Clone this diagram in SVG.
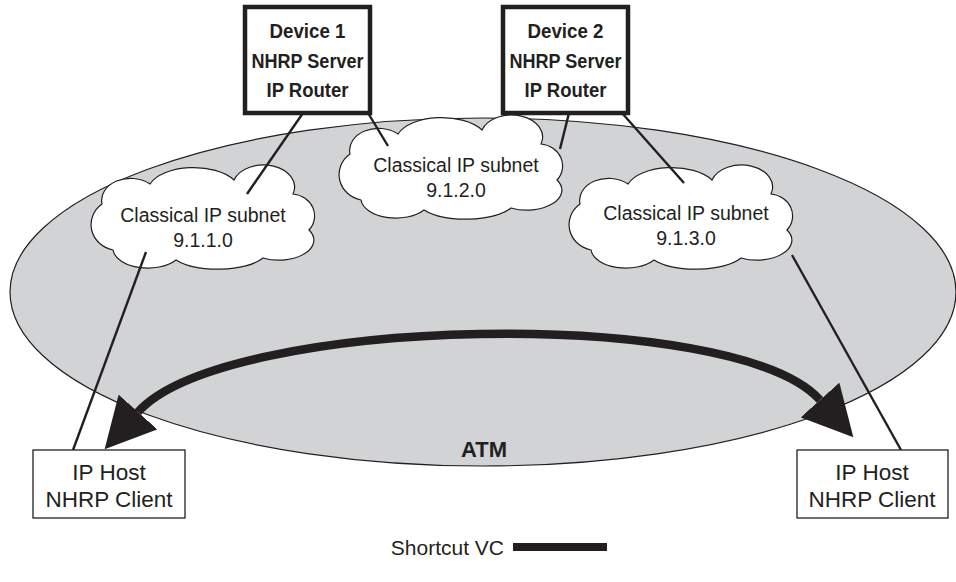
<svg xmlns="http://www.w3.org/2000/svg" xmlns:xlink="http://www.w3.org/1999/xlink" width="956" height="582" viewBox="0 0 956 582">
  <style>
    .txt { font-family: "Liberation Sans", Arial, sans-serif; fill: #231f20; text-anchor: middle; }
    .bold { font-weight: bold; font-size: 20.5px; }
    .atm { font-weight: bold; font-size: 22px; }
    .cloudtxt { font-size: 19.5px; }
    .hosttxt { font-size: 22.5px; }
    .dev { fill: #ffffff; stroke: #231f20; stroke-width: 4.5; }
    .host { fill: #ffffff; stroke: #231f20; stroke-width: 1.3; }
    .cloud { fill: #ffffff; stroke: #231f20; stroke-width: 1.2; }
    .conn { stroke: #231f20; stroke-width: 2.4; fill: none; }
    .vc { stroke: #231f20; stroke-width: 8.5; fill: none; }
  </style>
  <defs>
    <path id="cloudShape" d="M -101,-14 A 29,22 0 0 1 -53,-34 A 46,24 0 0 1 31,-38 A 31,22 0 0 1 90,-24 A 24,22 0 0 1 106,12 A 35,20 0 0 1 60,40 A 50,20 0 0 1 -27,42 A 35,20 0 0 1 -90,32 A 28,26 0 0 1 -101,-14 Z"/>
    <marker id="head" viewBox="0 0 50 52" refX="0" refY="26" markerWidth="50" markerHeight="52" markerUnits="userSpaceOnUse" orient="auto-start-reverse">
      <path d="M 0,0 L 50,26 L 0,52 Z" fill="#231f20"/>
    </marker>
  </defs>

  <g id="atm">
    <ellipse cx="483" cy="292" rx="473" ry="174" fill="#d1d3d4" stroke="#231f20" stroke-width="1.2"/>
    <text class="txt atm" x="484" y="457">ATM</text>
  </g>

  <g id="cloud1">
    <use xlink:href="#cloudShape" href="#cloudShape" class="cloud" transform="translate(203,218)"/>
    <text class="txt cloudtxt" x="203" y="222">Classical IP subnet</text>
    <text class="txt cloudtxt" x="203" y="247">9.1.1.0</text>
  </g>
  <g id="cloud2">
    <use xlink:href="#cloudShape" href="#cloudShape" class="cloud" transform="translate(451,168)"/>
    <text class="txt cloudtxt" x="456" y="172">Classical IP subnet</text>
    <text class="txt cloudtxt" x="456" y="197">9.1.2.0</text>
  </g>
  <g id="cloud3">
    <use xlink:href="#cloudShape" href="#cloudShape" class="cloud" transform="translate(681,218)"/>
    <text class="txt cloudtxt" x="686" y="220">Classical IP subnet</text>
    <text class="txt cloudtxt" x="686" y="245">9.1.3.0</text>
  </g>

  <g id="connectors">
    <line class="conn" x1="303" y1="113" x2="247" y2="194"/>
    <line class="conn" x1="368" y1="113" x2="388" y2="146"/>
    <line class="conn" x1="569" y1="113" x2="560" y2="149"/>
    <line class="conn" x1="622" y1="113" x2="684" y2="183"/>
    <line class="conn" x1="146" y1="252" x2="73" y2="450"/>
    <line class="conn" x1="792" y1="255" x2="901" y2="450"/>
    <path class="vc" d="M 138,412 C 225,315 735,305 820,400" marker-start="url(#head)" marker-end="url(#head)"/>
  </g>

  <g id="device1">
    <rect class="dev" x="245" y="7" width="125" height="106"/>
    <text class="txt bold" x="307.5" y="38" textLength="76" lengthAdjust="spacingAndGlyphs">Device 1</text>
    <text class="txt bold" x="307.5" y="68" textLength="112" lengthAdjust="spacingAndGlyphs">NHRP Server</text>
    <text class="txt bold" x="307.5" y="97" textLength="82" lengthAdjust="spacingAndGlyphs">IP Router</text>
  </g>
  <g id="device2">
    <rect class="dev" x="503" y="7" width="125" height="106"/>
    <text class="txt bold" x="565.5" y="38" textLength="76" lengthAdjust="spacingAndGlyphs">Device 2</text>
    <text class="txt bold" x="565.5" y="68" textLength="112" lengthAdjust="spacingAndGlyphs">NHRP Server</text>
    <text class="txt bold" x="565.5" y="97" textLength="82" lengthAdjust="spacingAndGlyphs">IP Router</text>
  </g>

  <g id="host1">
    <rect class="host" x="33" y="450" width="152" height="68"/>
    <text class="txt hosttxt" x="109" y="480">IP Host</text>
    <text class="txt hosttxt" x="109" y="507">NHRP Client</text>
  </g>
  <g id="host2">
    <rect class="host" x="797" y="450" width="151" height="68"/>
    <text class="txt hosttxt" x="872" y="480">IP Host</text>
    <text class="txt hosttxt" x="872" y="507">NHRP Client</text>
  </g>

  <g id="legend">
    <text class="txt" x="504" y="555" style="font-size:21px;text-anchor:end">Shortcut VC</text>
    <rect x="513" y="543" width="94" height="8" fill="#231f20"/>
  </g>
</svg>
